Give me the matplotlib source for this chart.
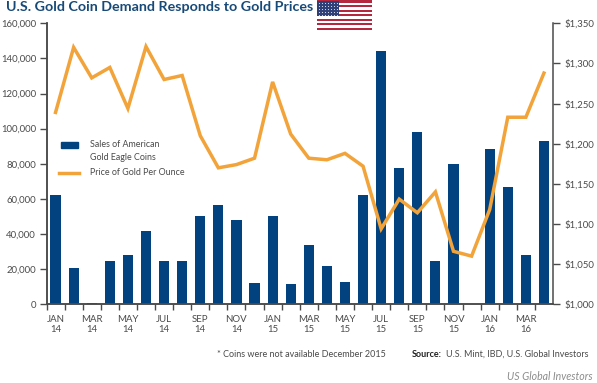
import matplotlib
matplotlib.use("Agg")
import matplotlib.pyplot as plt
from matplotlib.patches import Rectangle
from matplotlib.lines import Line2D
from matplotlib.ticker import FuncFormatter
import numpy as np

plt.rcParams['font.family'] = ['Lato', 'DejaVu Sans']

months = ["JAN\n14","FEB\n14","MAR\n14","APR\n14","MAY\n14","JUN\n14","JUL\n14","AUG\n14","SEP\n14","OCT\n14","NOV\n14","DEC\n14",
          "JAN\n15","FEB\n15","MAR\n15","APR\n15","MAY\n15","JUN\n15","JUL\n15","AUG\n15","SEP\n15","OCT\n15","NOV\n15","DEC\n15",
          "JAN\n16","FEB\n16","MAR\n16","APR\n16"]
coins = [62000,20500,1000,24500,28000,42000,24500,24500,50000,56500,48000,12000,
         50500,11500,34000,22000,12500,62000,144000,77500,98000,24500,80000,0,
         88500,67000,28000,93000]
price = [1239,1320,1282,1295,1244,1321,1280,1285,1210,1170,1174,1182,
         1277,1212,1182,1180,1188,1172,1094,1131,1114,1140,1066,1060,
         1118,1233,1233,1288]
left_ticks = [0,20000,40000,60000,80000,100000,120000,140000,160000]
right_ticks = [1000,1050,1100,1150,1200,1250,1300,1350]

NAVY = "#02437f"
ORANGE = "#f2a33a"
GREY = "#4a4a4a"
W, H = 597, 383
fig = plt.figure(figsize=(W/100, H/100), dpi=100, facecolor="white")
ax = fig.add_axes([46.5/W, 1-304.3/H, 506.5/W, 281/H])
x = np.arange(len(months))
ax.bar(x, coins, width=0.56, color=NAVY, zorder=2)
ax.set_xlim(-0.5, len(months)-0.5)
ax.set_ylim(0, 160000)
ax.set_yticks(left_ticks)
ax.yaxis.set_major_formatter(FuncFormatter(lambda v, p: f"{int(v):,}"))
ax.set_xticks(x - 0.5, minor=False)
ax.set_xticklabels([])
ax.set_xticks(x[::2], minor=True)
ax.set_xticklabels(months[::2], minor=True, fontsize=6.9, color=GREY, linespacing=1.05)
ax.tick_params(axis='x', which='minor', length=0, pad=8)
ax.tick_params(axis='x', which='major', length=4, width=1, color=GREY)
ax.tick_params(axis='y', length=5, width=1, color=GREY, labelsize=6.9, labelcolor=GREY, pad=2.5)

ax2 = ax.twinx()
ax2.plot(x, price, color=ORANGE, lw=2.5, solid_joinstyle='miter', zorder=3)
ax2.set_ylim(1000, 1350)
ax2.set_yticks(right_ticks)
ax2.yaxis.set_major_formatter(FuncFormatter(lambda v, p: f"${int(v):,}"))
ax2.tick_params(axis='y', length=5, width=1, color=GREY, labelsize=6.9, labelcolor=GREY, pad=3)
for a in (ax, ax2):
    a.spines['top'].set_visible(False)
    for s in ('left', 'right', 'bottom'):
        a.spines[s].set_color(GREY)
        a.spines[s].set_linewidth(1.1)
ax.spines['right'].set_visible(False)

def px(xp, yp):
    return xp/W, 1-yp/H

fig.text(*px(6, 7), "U.S. Gold Coin Demand Responds to Gold Prices", fontsize=10.3, fontweight='bold',
         color="#174a78", va='center', ha='left')

# legend
fig.add_artist(Rectangle(px(61, 148), 17/W, 5.5/H, transform=fig.transFigure, color=NAVY))
fig.add_artist(Line2D([59/W, 79/W], [1-173/H]*2, color=ORANGE, lw=2.5))
fig.text(*px(90.5, 144.5), "Sales of American", fontsize=6.4, color=GREY, va='center')
fig.text(*px(90.5, 157.5), "Gold Eagle Coins", fontsize=6.4, color=GREY, va='center')
fig.text(*px(90.5, 172.5), "Price of Gold Per Ounce", fontsize=6.4, color=GREY, va='center')

# footer
fig.text(*px(217, 354.5), "* Coins were not available December 2015", fontsize=6.5, color=GREY, va='center')
fig.text(*px(412, 354.5), "Source:", fontsize=6.5, fontweight='bold', color="#222222", va='center')
fig.text(*px(446, 354.5), "U.S. Mint, IBD, U.S. Global Investors", fontsize=6.5, color=GREY, va='center')
fig.text(*px(593, 376), "US Global Investors", fontsize=7.6, style='italic', color="#8c8c8c", va='center', ha='right')

# flag
fx0, fx1, fy0, fy1 = 317, 371.5, 0.5, 30
sh = (fy1-fy0)/13
for i in range(13):
    c = "#b5263f" if i % 2 == 0 else "white"
    fig.add_artist(Rectangle(px(fx0, fy0+(i+1)*sh), (fx1-fx0)/W, sh/H, transform=fig.transFigure, color=c, lw=0))
fig.add_artist(Rectangle(px(fx0, fy0+7*sh), 22/W, 7*sh/H, transform=fig.transFigure, color="#2f3f78", lw=0))
sx, sy = np.meshgrid(np.arange(fx0+2, fx0+21, 3), np.arange(fy0+2, fy0+7*sh-1, 3))
fig.add_artist(Line2D((sx.ravel())/W, 1-(sy.ravel())/H, ls='none', marker='.', ms=1.6, mew=0, color="#dfe4f2"))

fig.savefig("out.png", dpi=100, facecolor="white")
